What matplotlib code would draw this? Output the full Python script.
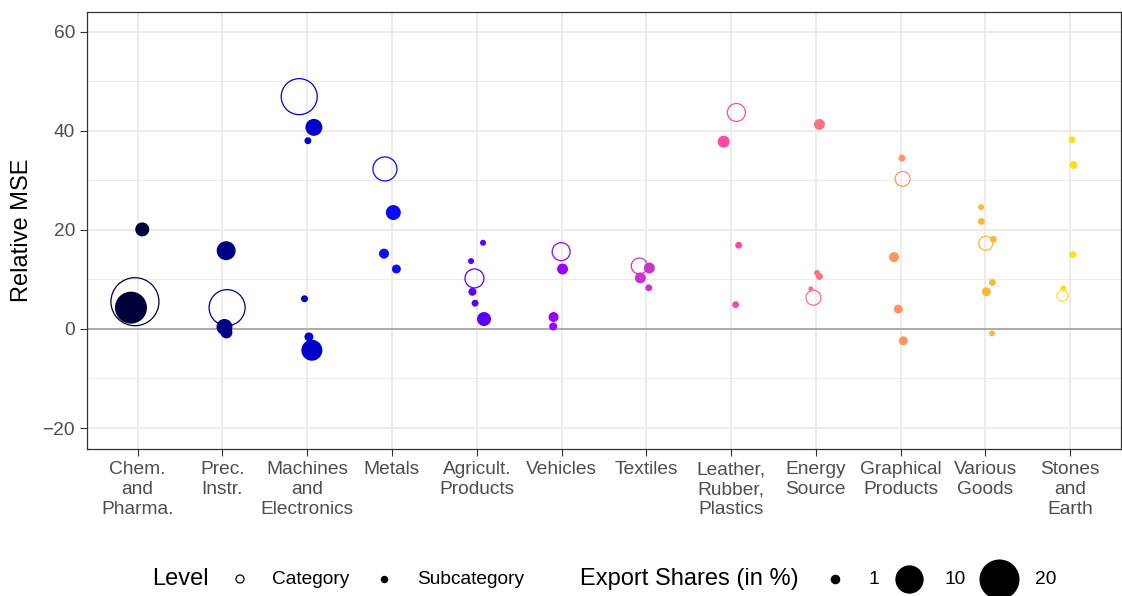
import numpy as np
import matplotlib
matplotlib.use("Agg")
import matplotlib.pyplot as plt

plt.rcParams['font.family'] = ['Liberation Sans', 'DejaVu Sans']

# categories (x axis) and their colours
categories = ["Chem.\nand\nPharma.", "Prec.\nInstr.", "Machines\nand\nElectronics", "Metals",
              "Agricult.\nProducts", "Vehicles", "Textiles", "Leather,\nRubber,\nPlastics",
              "Energy\nSource", "Graphical\nProducts", "Various\nGoods", "Stones\nand\nEarth"]
cat_colors = ["#00003A", "#000087", "#0000CD", "#0A0AFF", "#5A00FF", "#9A00FF",
              "#CC33CC", "#FF4AA5", "#FF7080", "#FF9562", "#FFB833", "#FFE014"]

# one entry per point: category index, level, jitter, relative MSE, export share (%)
pt_cat = [0, 0, 0,
          1, 1, 1, 1,
          2, 2, 2, 2, 2, 2,
          3, 3, 3, 3,
          4, 4, 4, 4, 4, 4,
          5, 5, 5, 5,
          6, 6, 6, 6,
          7, 7, 7, 7,
          8, 8, 8, 8, 8,
          9, 9, 9, 9, 9,
          10, 10, 10, 10, 10, 10, 10,
          11, 11, 11, 11, 11]
pt_level = ["C", "S", "S",
            "C", "S", "S", "S",
            "C", "S", "S", "S", "S", "S",
            "C", "S", "S", "S",
            "S", "S", "C", "S", "S", "S",
            "C", "S", "S", "S",
            "C", "S", "S", "S",
            "C", "S", "S", "S",
            "S", "S", "S", "S", "C",
            "S", "C", "S", "S", "S",
            "S", "S", "S", "C", "S", "S", "S",
            "S", "S", "S", "S", "C"]
pt_jitter = [-0.032, -0.079, 0.054,
             0.055, 0.044, 0.024, 0.047,
             -0.094, 0.079, 0.008, -0.032, 0.02, 0.055,
             -0.083, 0.016, -0.094, 0.052,
             0.074, -0.067, -0.027, -0.051, -0.02, 0.086,
             -0.004, 0.012, -0.094, -0.098,
             -0.082, 0.036, -0.07, 0.029,
             0.063, -0.087, 0.09, 0.054,
             0.043, 0.015, 0.043, -0.059, -0.028,
             0.016, 0.024, -0.078, -0.027, 0.032,
             -0.051, -0.047, 0.094, 0.005, 0.083, 0.012, 0.079,
             0.024, 0.04, 0.032, -0.078, -0.09]
pt_mse = [5.5, 4.3, 20.1,
          4.3, 15.8, 0.4, -0.7,
          46.9, 40.7, 38.0, 6.1, -1.6, -4.3,
          32.3, 23.5, 15.2, 12.1,
          17.4, 13.7, 10.2, 7.5, 5.2, 2.0,
          15.6, 12.1, 2.4, 0.5,
          12.7, 12.3, 10.3, 8.3,
          43.7, 37.8, 16.9, 4.9,
          41.3, 11.3, 10.6, 8.1, 6.3,
          34.5, 30.3, 14.5, 4.0, -2.4,
          24.6, 21.7, 18.1, 17.3, 9.4, 7.5, -0.9,
          38.2, 33.1, 15.0, 8.2, 6.7]
pt_share = [28.8, 12.8, 2.45,
            16.2, 4.5, 3.2, 1.8,
            16.2, 3.6, 0.6, 0.6, 1.0, 5.5,
            7.2, 2.8, 1.25, 1.0,
            0.45, 0.45, 4.5, 0.8, 0.6, 2.45,
            4.05, 1.5, 1.25, 0.8,
            3.2, 1.5, 1.5, 0.6,
            4.05, 1.8, 0.6, 0.6,
            1.5, 0.45, 0.6, 0.3, 2.8,
            0.6, 2.8, 1.25, 1.0, 1.0,
            0.45, 0.6, 0.6, 2.45, 0.6, 1.0, 0.45,
            0.6, 0.8, 0.6, 0.45, 1.5]

legend_shares = [1, 10, 20]

W, H = 1122, 596
fig = plt.figure(figsize=(W / 100, H / 100), dpi=100)
ax_l, ax_r, ax_t, ax_b = 86.8, 1121, 11.7, 449.3
ax = fig.add_axes([ax_l / W, 1 - ax_b / H, (ax_r - ax_l) / W, (ax_b - ax_t) / H])


def share_to_s(v):
    # area proportional to export share
    return 41.5 * np.asarray(v, dtype=float)


x = np.arange(1, len(categories) + 1)
px = np.array([x[c] + j for c, j in zip(pt_cat, pt_jitter)])
cols = np.array([cat_colors[c] for c in pt_cat])
lev = np.array(pt_level)
mse = np.array(pt_mse)
sz = share_to_s(pt_share)

# grid + zero line
for yy in [-10, 10, 30, 50]:
    ax.axhline(yy, color="#EBEBEB", lw=0.7, zorder=0)
for yy in [-20, 20, 40, 60]:
    ax.axhline(yy, color="#EBEBEB", lw=1.3, zorder=0)
for xx in x:
    ax.axvline(xx, color="#EBEBEB", lw=1.3, zorder=0)
ax.axhline(0, color="#ABABAB", lw=1.4, zorder=1)

cat_mask = lev == "C"
ax.scatter(px[cat_mask], mse[cat_mask], s=sz[cat_mask], facecolors="none",
           edgecolors=cols[cat_mask], linewidths=0.9, zorder=2)
ax.scatter(px[~cat_mask], mse[~cat_mask], s=sz[~cat_mask], c=cols[~cat_mask],
           linewidths=0, zorder=3)

ax.set_xlim(0.4, 12.6)
ax.set_ylim(-24.3, 64.05)
ax.set_xticks(x)
ax.set_xticklabels(categories, linespacing=1.24)
ax.set_yticks([-20, 0, 20, 40, 60])
ax.set_yticklabels(["\u221220", "0", "20", "40", "60"])
ax.tick_params(axis="both", length=5, width=0.8, color="#333333",
               labelcolor="#4D4D4D", labelsize=13.8, pad=3.5)
for sp in ax.spines.values():
    sp.set_color("#333333")
    sp.set_linewidth(0.9)

fig.text(22 / W, 1 - 230 / H, "Relative MSE", rotation=90, ha="center", va="center",
         fontsize=17, color="black")

# legend drawn in a pixel-coordinate overlay
lg = fig.add_axes([0, 0, 1, 1], facecolor="none")
lg.set_xlim(0, W)
lg.set_ylim(H, 0)
lg.axis("off")
ly = 579
lg.text(152, ly, "Level", fontsize=17, va="center", ha="left")
lg.scatter([240], [ly], s=share_to_s(0.8), facecolors="none", edgecolors="black", linewidths=0.9)
lg.text(272, ly, "Category", fontsize=13.8, va="center", ha="left")
lg.scatter([384], [ly], s=share_to_s(0.7), c="black", linewidths=0)
lg.text(417, ly, "Subcategory", fontsize=13.8, va="center", ha="left")

lg.text(580, ly, "Export Shares (in %)", fontsize=17, va="center", ha="left")
for kx, tx, v in zip([835, 909, 999], [869, 945, 1035], legend_shares):
    lg.scatter([kx], [ly], s=share_to_s(max(v, 1.15)), c="black", linewidths=0)
    lg.text(tx, ly, str(v), fontsize=13.8, va="center", ha="left")

fig.savefig("out.png", dpi=100)
